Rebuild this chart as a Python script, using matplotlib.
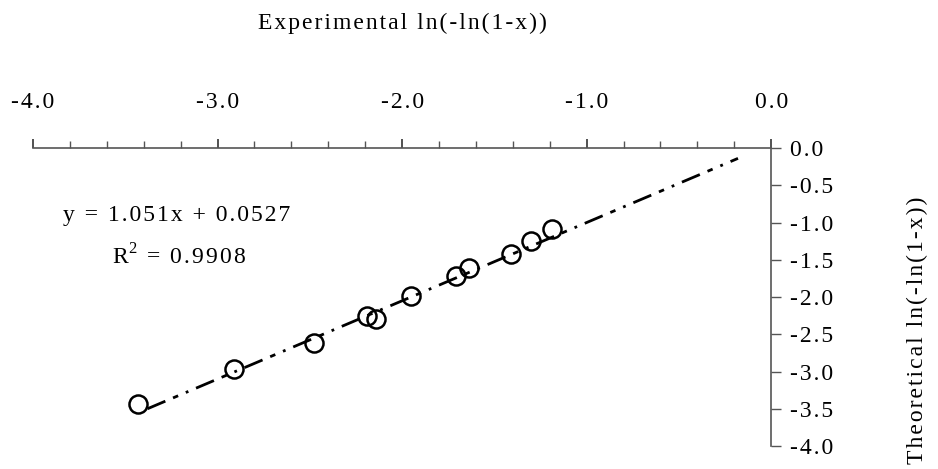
import numpy as np
import matplotlib.pyplot as plt
from matplotlib.ticker import MultipleLocator, FuncFormatter

exp_x = [-3.43, -2.91, -2.48, -2.19, -2.14, -1.95, -1.71, -1.64, -1.41, -1.30, -1.19]
theo_y = [-3.43, -2.96, -2.62, -2.26, -2.30, -1.99, -1.72, -1.61, -1.42, -1.25, -1.09]

# 拟合直线
slope = 1.051
intercept = 0.0527
fit_x = [-3.38, -0.18]
r2 = 0.9908

plt.rcParams['font.family'] = ['Liberation Serif', 'DejaVu Serif']
plt.rcParams['mathtext.fontset'] = 'custom'
plt.rcParams['mathtext.rm'] = 'Liberation Serif'

SP = '\u200a'


def spaced(s):
    # 字母间距
    return SP.join(s)


fig = plt.figure(figsize=(9.38, 4.69), dpi=100)
ax = fig.add_axes([0.0352, 0.049, 0.787, 0.635])

fx = np.array(fit_x)
ax.plot(fx, slope * fx + intercept, color='black', linewidth=2,
        linestyle=(0, (7, 3, 2, 3, 1, 3)))
ax.plot(exp_x, theo_y, linestyle='none', marker='o', markersize=13,
        markerfacecolor='none', markeredgecolor='black', markeredgewidth=1.8)

ax.set_xlim(-4.0, 0.0)
ax.set_ylim(-4.0, 0.0)

for s in ['left', 'bottom']:
    ax.spines[s].set_visible(False)
for s in ['top', 'right']:
    ax.spines[s].set_color('#555555')
    ax.spines[s].set_linewidth(1.2)

ax.xaxis.tick_top()
ax.xaxis.set_label_position('top')
ax.yaxis.tick_right()
ax.yaxis.set_label_position('right')

ax.xaxis.set_major_locator(MultipleLocator(1.0))
ax.xaxis.set_minor_locator(MultipleLocator(0.2))
ax.yaxis.set_major_locator(MultipleLocator(0.5))

fmt = FuncFormatter(lambda v, p: spaced(f"{v:.1f}".replace('-0.0', '0.0')))
ax.xaxis.set_major_formatter(fmt)
ax.yaxis.set_major_formatter(fmt)

ax.tick_params(axis='x', which='major', direction='out', length=6.5, width=1.2,
               color='#333333', pad=19, labelsize=17)
ax.tick_params(axis='x', which='minor', direction='out', length=4.8, width=1,
               color='#555555')
ax.tick_params(axis='y', which='major', direction='out', length=7.2, width=1,
               color='#555555', pad=6, labelsize=17)

ax.set_xlabel(spaced("Experimental ln(-ln(1-x))"), fontsize=17, labelpad=45.5)
ax.set_ylabel(spaced("Theoretical ln(-ln(1-x))"), fontsize=17, rotation=90,
              va='center', ha='center')
ax.yaxis.set_label_coords(1.198, 0.39)

ax.text(0.04, 0.775, spaced(f"y = {slope}x + {intercept}"), transform=ax.transAxes,
        fontsize=17, va='center', ha='left')
ax.text(0.107, 0.635, spaced("R") + "$^{2}$" + SP + spaced(f" = {r2}"),
        transform=ax.transAxes, fontsize=17, va='center', ha='left')

fig.savefig('out.png', dpi=100)
